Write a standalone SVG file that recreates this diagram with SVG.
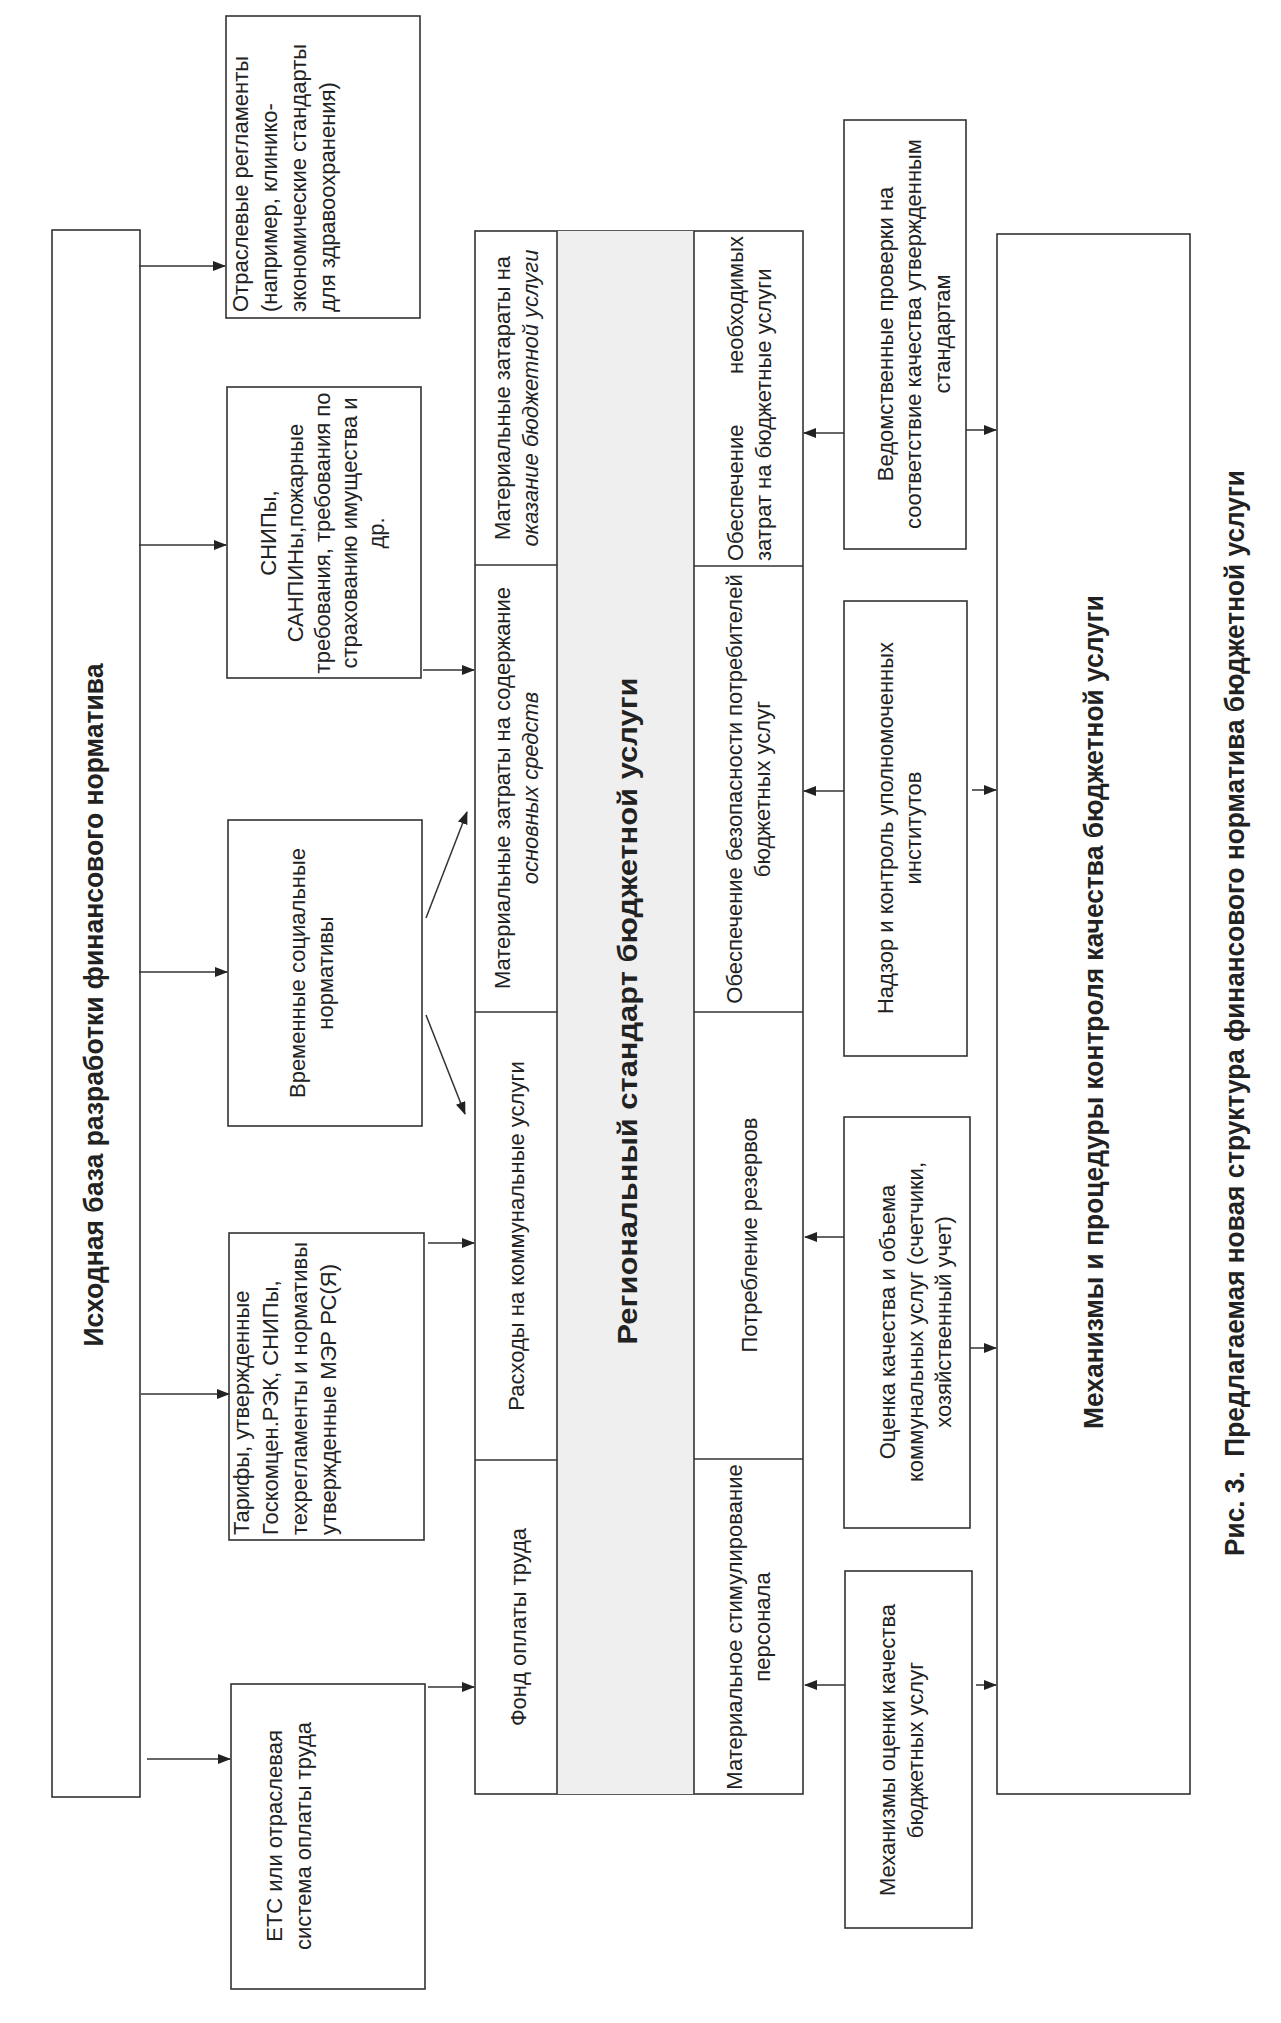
<svg xmlns="http://www.w3.org/2000/svg" width="1281" height="2023" viewBox="0 0 1281 2023">
<style>
.box{fill:#fff;stroke:#333;stroke-width:1.6}
.t{font-family:"Liberation Sans",Arial,sans-serif;font-size:22px;fill:#222}
.c{text-anchor:middle}
.e{text-anchor:end}
.i{font-style:italic}
.b{font-weight:bold;font-size:27px;text-anchor:middle}
.ln{stroke:#333;stroke-width:1.6;fill:none}
.conn line{stroke:#333;stroke-width:1.5;marker-end:url(#ah)}
</style>
<defs>
<marker id="ah" markerUnits="userSpaceOnUse" markerWidth="13" markerHeight="10" refX="12" refY="5" orient="auto">
<path d="M0,0 L13,5 L0,10 z" fill="#222"/>
</marker>
</defs>
<rect width="1281" height="2023" fill="#fff"/>

<g id="base">
<rect class="box" x="52" y="230" width="88" height="1567"/>
<text class="t b" textLength="683" lengthAdjust="spacingAndGlyphs" transform="translate(103,1005) rotate(-90)">Исходная база разработки финансового норматива</text>
</g>

<g id="n1">
<rect class="box" x="226" y="16" width="194" height="302"/>
<g class="t">
<text transform="translate(248,312) rotate(-90)">Отраслевые регламенты</text>
<text transform="translate(277,312) rotate(-90)">(например, клинико-</text>
<text transform="translate(306,312) rotate(-90)">экономические стандарты</text>
<text transform="translate(335,312) rotate(-90)">для здравоохранения)</text>
</g>
</g>

<g id="n2">
<rect class="box" x="227" y="387" width="194" height="291"/>
<g class="t c">
<text transform="translate(276,533) rotate(-90)">СНИПы,</text>
<text transform="translate(303,533) rotate(-90)">САНПИНы,пожарные</text>
<text transform="translate(330,533) rotate(-90)">требования, требования по</text>
<text transform="translate(357,533) rotate(-90)">страхованию имущества и</text>
<text transform="translate(384,533) rotate(-90)">др.</text>
</g>
</g>

<g id="n3">
<rect class="box" x="228" y="820" width="194" height="306"/>
<g class="t c">
<text transform="translate(305,973) rotate(-90)">Временные социальные</text>
<text transform="translate(333,973) rotate(-90)">нормативы</text>
</g>
</g>

<g id="n4">
<rect class="box" x="229" y="1233" width="195" height="307"/>
<g class="t">
<text transform="translate(249,1535) rotate(-90)">Тарифы, утвержденные</text>
<text transform="translate(278,1535) rotate(-90)">Госкомцен.РЭК, СНИПы,</text>
<text transform="translate(307,1535) rotate(-90)">техрегламенты и нормативы</text>
<text transform="translate(336,1535) rotate(-90)">утвержденные МЭР РС(Я)</text>
</g>
</g>

<g id="n5">
<rect class="box" x="231" y="1684" width="194" height="305"/>
<g class="t c">
<text transform="translate(282,1836) rotate(-90)">ЕТС или отраслевая</text>
<text transform="translate(311,1836) rotate(-90)">система оплаты труда</text>
</g>
</g>

<g id="standard">
<rect class="box" x="475" y="231" width="328" height="1563"/>
<rect x="557" y="231" width="137" height="1563" fill="#efefef"/>
<line class="ln" x1="557" y1="231" x2="557" y2="1794"/>
<line class="ln" x1="694" y1="231" x2="694" y2="1794"/>
<line class="ln" x1="475" y1="565" x2="557" y2="565"/>
<line class="ln" x1="475" y1="1012" x2="557" y2="1012"/>
<line class="ln" x1="475" y1="1460" x2="557" y2="1460"/>
<line class="ln" x1="694" y1="566" x2="803" y2="566"/>
<line class="ln" x1="694" y1="1012" x2="803" y2="1012"/>
<line class="ln" x1="694" y1="1459" x2="803" y2="1459"/>
<text class="t b" textLength="667" lengthAdjust="spacingAndGlyphs" transform="translate(637,1011) rotate(-90)">Региональный стандарт бюджетной услуги</text>
</g>

<g id="c1" class="t c">
<text transform="translate(510,398) rotate(-90)">Материальные затараты на</text>
<text class="i" transform="translate(538,398) rotate(-90)">оказание бюджетной услуги</text>
</g>
<g id="c2" class="t c">
<text transform="translate(510,788) rotate(-90)">Материальные затраты на содержание</text>
<text class="i" transform="translate(538,788) rotate(-90)">основных средств</text>
</g>
<g id="c3" class="t c">
<text transform="translate(524,1236) rotate(-90)">Расходы на коммунальные услуги</text>
</g>
<g id="c4" class="t c">
<text transform="translate(526,1627) rotate(-90)">Фонд оплаты труда</text>
</g>
<g id="c5" class="t">
<text transform="translate(743,561) rotate(-90)">Обеспечение</text>
<text class="e" transform="translate(743,236) rotate(-90)">необходимых</text>
<text transform="translate(771,561) rotate(-90)">затрат на бюджетные услуги</text>
</g>
<g id="c6" class="t c">
<text transform="translate(742,789) rotate(-90)">Обеспечение безопасности потребителей</text>
<text transform="translate(770,789) rotate(-90)">бюджетных услуг</text>
</g>
<g id="c7" class="t c">
<text transform="translate(757,1235) rotate(-90)">Потребление резервов</text>
</g>
<g id="c8" class="t c">
<text transform="translate(742,1627) rotate(-90)">Материальное стимулирование</text>
<text transform="translate(770,1627) rotate(-90)">персонала</text>
</g>

<g id="r1">
<rect class="box" x="844" y="120" width="122" height="429"/>
<g class="t c">
<text transform="translate(893,334) rotate(-90)">Ведомственные проверки на</text>
<text transform="translate(921,334) rotate(-90)">соответствие качества утвержденным</text>
<text transform="translate(950,334) rotate(-90)">стандартам</text>
</g>
</g>
<g id="r2">
<rect class="box" x="844" y="601" width="123" height="455"/>
<g class="t c">
<text transform="translate(893,828) rotate(-90)">Надзор и контроль уполномоченных</text>
<text transform="translate(921,828) rotate(-90)">институтов</text>
</g>
</g>
<g id="r3">
<rect class="box" x="844" y="1117" width="126" height="411"/>
<g class="t c">
<text transform="translate(895,1322) rotate(-90)">Оценка качества и объема</text>
<text transform="translate(923,1322) rotate(-90)">коммунальных услуг (счетчики,</text>
<text transform="translate(951,1322) rotate(-90)">хозяйственный учет)</text>
</g>
</g>
<g id="r4">
<rect class="box" x="845" y="1571" width="127" height="357"/>
<g class="t c">
<text transform="translate(895,1750) rotate(-90)">Механизмы оценки качества</text>
<text transform="translate(923,1750) rotate(-90)">бюджетных услуг</text>
</g>
</g>

<g id="control">
<rect class="box" x="997" y="234" width="193" height="1560"/>
<text class="t b" textLength="834" lengthAdjust="spacingAndGlyphs" transform="translate(1103,1012) rotate(-90)">Механизмы и процедуры контроля качества бюджетной услуги</text>
</g>

<g id="caption">
<text class="t b" xml:space="preserve" textLength="1086" lengthAdjust="spacingAndGlyphs" transform="translate(1244,1013) rotate(-90)">Рис. 3.  Предлагаемая новая структура финансового норматива бюджетной услуги</text>
</g>

<g class="conn" id="connectors">
<line x1="139" y1="266" x2="225" y2="266"/>
<line x1="139" y1="545" x2="226" y2="545"/>
<line x1="139" y1="972" x2="227" y2="972"/>
<line x1="141" y1="1394" x2="229" y2="1394"/>
<line x1="147" y1="1759" x2="230" y2="1759"/>
<line x1="423" y1="670" x2="474" y2="670"/>
<line x1="426" y1="918" x2="467" y2="812"/>
<line x1="426" y1="1015" x2="465" y2="1114"/>
<line x1="428" y1="1243" x2="474" y2="1243"/>
<line x1="428" y1="1687" x2="474" y2="1687"/>
<line x1="844" y1="433" x2="804" y2="433"/>
<line x1="844" y1="791" x2="804" y2="791"/>
<line x1="844" y1="1237" x2="805" y2="1237"/>
<line x1="845" y1="1685" x2="805" y2="1685"/>
<line x1="966" y1="430" x2="996" y2="430"/>
<line x1="972" y1="790" x2="996" y2="790"/>
<line x1="970" y1="1348" x2="996" y2="1348"/>
<line x1="976" y1="1685" x2="996" y2="1685"/>
</g>
</svg>
